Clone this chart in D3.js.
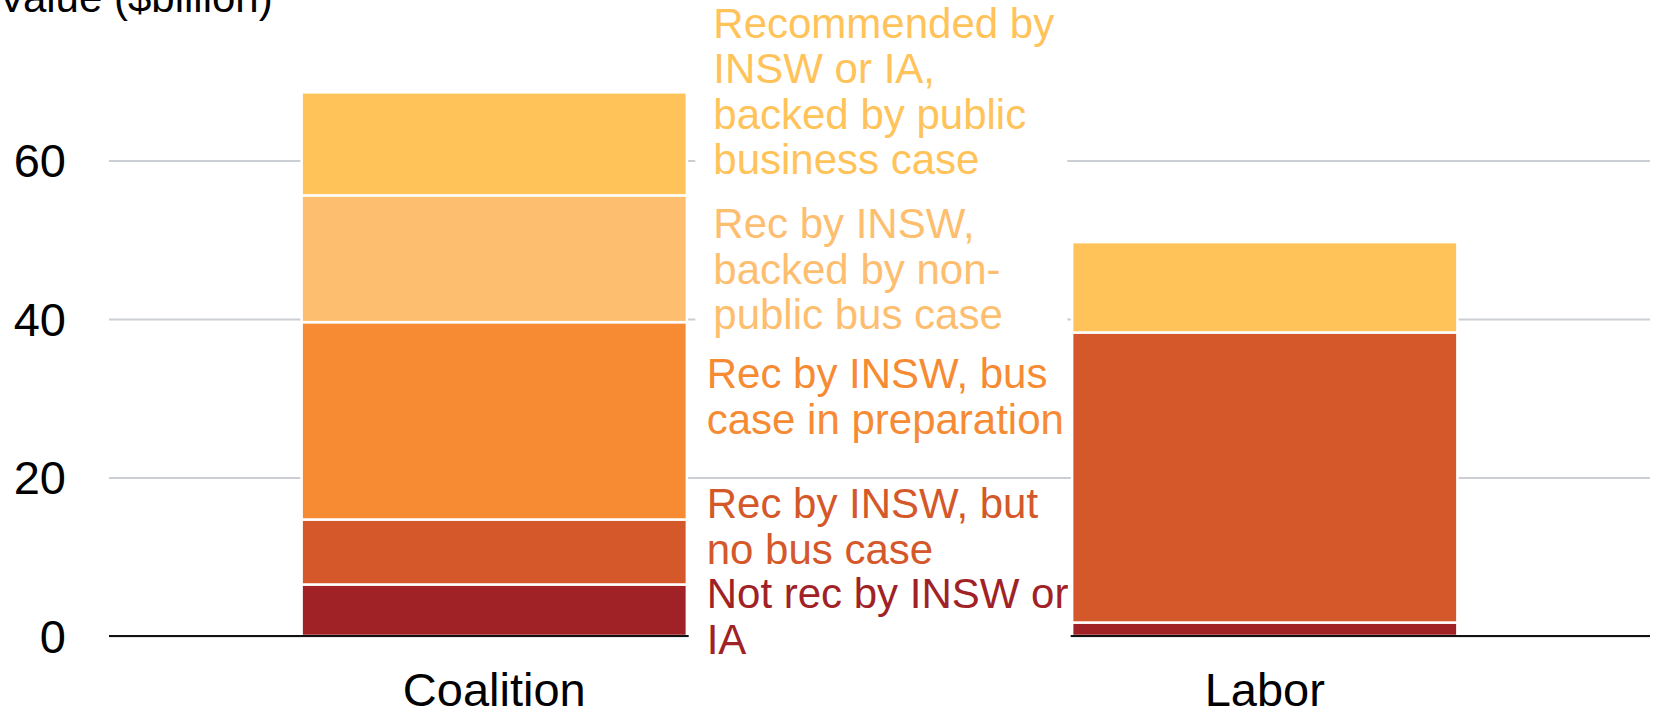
<!DOCTYPE html>
<html>
<head>
<meta charset="utf-8">
<script src="https://cdn.jsdelivr.net/npm/d3@7"></script>
<style>
  body { margin: 0; background: #fff; }
  svg { display: block; font-family: "Liberation Sans", Arial, Helvetica, sans-serif; }
</style>
</head>
<body>
<div id="chart"></div>
<script>
// parties on the x axis
const parties = ["Coalition", "Labor"];
// stack order, bottom to top
const categories = [
  "Not rec by INSW or IA",
  "Rec by INSW, but no bus case",
  "Rec by INSW, bus case in preparation",
  "Rec by INSW, backed by non-public bus case",
  "Recommended by INSW or IA, backed by public business case"
];
const coalitionValues = [6.5, 8.2, 24.9, 16.0, 13.0];
const laborValues = [1.7, 36.6, 0, 0, 11.4];
const yTicks = [0, 20, 40, 60];
const colors = ["#A02226", "#D4582A", "#F68B33", "#FEBE6F", "#FFC35A"];
// label text as wrapped in the original
const labelLines = [
  ["Not rec by INSW or", "IA"],
  ["Rec by INSW, but", "no bus case"],
  ["Rec by INSW, bus", "case in preparation"],
  ["Rec by INSW,", "backed by non-", "public bus case"],
  ["Recommended by", "INSW or IA,", "backed by public", "business case"]
];

const svgWidth = 1656, svgHeight = 712;
const plot = { left: 109, right: 1650, top: 2, bottom: 636 };

const svg = d3.select("#chart")
  .append("svg")
  .attr("width", svgWidth)
  .attr("height", svgHeight);

// build rows for d3.stack
const rows = parties.map((p, i) => {
  const row = { party: p };
  const vals = i === 0 ? coalitionValues : laborValues;
  categories.forEach((c, j) => { row[c] = vals[j]; });
  return row;
});
const series = d3.stack().keys(categories)(rows);

const x = d3.scaleBand()
  .domain(parties)
  .range([plot.left, plot.right])
  .paddingInner(0.5)
  .paddingOuter(0.25);

const y = d3.scaleLinear()
  .domain([0, 80])
  .range([plot.bottom, plot.top]);

// gridlines + tick labels
const yAxis = d3.axisLeft(y)
  .tickValues(yTicks)
  .tickSize(-(plot.right - plot.left))
  .tickPadding(43)
  .tickFormat(d3.format("d"));

const axisG = svg.append("g")
  .attr("transform", `translate(${plot.left},0)`)
  .call(yAxis);
axisG.select(".domain").remove();
axisG.selectAll(".tick line")
  .attr("stroke", "#CBCED2")
  .attr("stroke-width", 2);
axisG.selectAll(".tick text")
  .attr("font-size", 47)
  .attr("fill", "#000")
  .attr("dy", "0.35em")
  .style("font-family", "Liberation Sans, Arial, sans-serif");

// bars
svg.append("g")
  .selectAll("g")
  .data(series)
  .join("g")
  .attr("fill", (d, i) => colors[i])
  .selectAll("rect")
  .data(d => d.filter(s => s[1] - s[0] > 0))
  .join("rect")
  .attr("x", d => x(d.data.party))
  .attr("y", d => y(d[1]))
  .attr("width", x.bandwidth())
  .attr("height", d => y(d[0]) - y(d[1]))
  .attr("stroke", "#fff")
  .attr("stroke-width", 2.5);

// zero line
svg.append("line")
  .attr("x1", plot.left)
  .attr("x2", plot.right)
  .attr("y1", y(0))
  .attr("y2", y(0))
  .attr("stroke", "#111")
  .attr("stroke-width", 2.2);

// direct labels next to the Coalition bar
const labelFirstBaseline = [608.3, 518.3, 388.3, 238.3, 37.5];
const labelX = [706.7, 706.7, 706.7, 713.3, 713.3];
const lineStep = 45.5;

const labels = svg.append("g")
  .selectAll("g")
  .data(labelLines)
  .join("g");

labels.each(function (lines, i) {
  const g = d3.select(this);
  const top = labelFirstBaseline[i] - 38;
  const bottom = labelFirstBaseline[i] + (lines.length - 1) * lineStep + 12;
  g.append("rect")
    .attr("x", labelX[i] - 18)
    .attr("y", top)
    .attr("width", 372 + (i < 3 ? 10 : 0))
    .attr("height", bottom - top)
    .attr("fill", "#fff");
  g.append("text")
    .attr("font-size", 42)
    .attr("fill", colors[i])
    .selectAll("tspan")
    .data(lines)
    .join("tspan")
    .attr("x", labelX[i])
    .attr("y", (d, k) => labelFirstBaseline[i] + k * lineStep)
    .text(d => d);
});

// x category labels
svg.append("g")
  .selectAll("text")
  .data(parties)
  .join("text")
  .attr("x", d => x(d) + x.bandwidth() / 2)
  .attr("y", 706)
  .attr("text-anchor", "middle")
  .attr("font-size", 47)
  .attr("fill", "#000")
  .text(d => d);

// axis title, clipped at the top edge like the original
svg.append("text")
  .attr("x", -2)
  .attr("y", 12)
  .attr("font-size", 42)
  .attr("fill", "#000")
  .text("Value ($billion)");
</script>
</body>
</html>
